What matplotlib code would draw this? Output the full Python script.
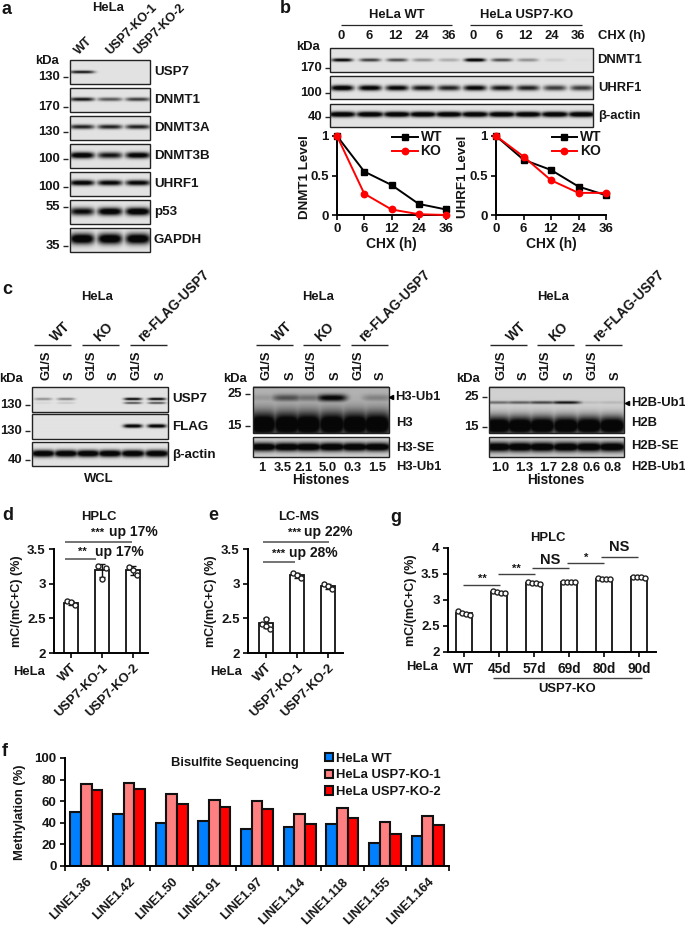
import numpy as np
import matplotlib
matplotlib.use('Agg')
import matplotlib.pyplot as plt
from matplotlib.patches import Rectangle

W, H = 685, 927
DARK = '#151515'
plt.rcParams['font.family'] = ['Liberation Sans', 'DejaVu Sans']
plt.rcParams['font.weight'] = 'bold'
plt.rcParams['axes.labelweight'] = 'bold'
plt.rcParams['font.size'] = 9.4
plt.rcParams['text.color'] = DARK
plt.rcParams['axes.labelcolor'] = DARK
plt.rcParams['xtick.color'] = DARK
plt.rcParams['ytick.color'] = DARK

# line charts, panel b
chx_labels = ['0', '6', '12', '24', '36']
dnmt1_wt = [1, 0.55, 0.38, 0.14, 0.07]
dnmt1_ko = [1, 0.27, 0.07, 0.01, 0.0]
uhrf1_wt = [1, 0.70, 0.57, 0.36, 0.25]
uhrf1_ko = [1, 0.74, 0.44, 0.28, 0.28]

# bars, panels d e g
ko_labels = ['WT', 'USP7-KO-1', 'USP7-KO-2']
hplc_d = [2.72, 3.19, 3.19]
hplc_d_pts = [[2.755, 2.73, 2.69], [3.26, 3.07, 3.23], [3.245, 3.19, 3.13]]
hplc_d_err = [0.03, 0.10, 0.06]
lcms = [2.43, 3.12, 2.96]
lcms_pts = [[2.42, 2.49, 2.35, 2.39], [3.15, 3.12, 3.08], [2.99, 2.96, 2.92]]
lcms_err = [0.07, 0.04, 0.04]
day_labels = ['WT', '45d', '57d', '69d', '80d', '90d']
hplc_g = [2.75, 3.15, 3.33, 3.35, 3.41, 3.44]
hplc_g_pts = [[2.78, 2.75, 2.74, 2.72], [3.17, 3.15, 3.14, 3.13],
              [3.34, 3.33, 3.33, 3.31], [3.35, 3.35, 3.35, 3.35],
              [3.43, 3.41, 3.41, 3.40], [3.45, 3.45, 3.44, 3.42]]

# bars, panel f
line1_labels = ['LINE1.36', 'LINE1.42', 'LINE1.50', 'LINE1.91', 'LINE1.97',
                'LINE1.114', 'LINE1.118', 'LINE1.155', 'LINE1.164']
meth_wt = [50, 48, 40, 42, 34, 36, 39, 21, 27.5]
meth_ko1 = [76, 77, 67, 61, 60, 48, 54, 41, 46]
meth_ko2 = [70, 71, 57, 55, 53, 39, 44, 30, 38]

# band strengths per lane
a_usp7 = [0.75, 0, 0]
a_dnmt1 = [0.75, 0.5, 0.6]
a_dnmt3a = [0.7, 0.7, 0.7]
a_dnmt3b = [0.95, 0.75, 0.9]
a_uhrf1 = [0.9, 0.85, 0.85]
a_p53 = [0.8, 0.95, 1.0]
a_gapdh = [1.0, 1.0, 1.0]
b_dnmt1 = [0.85, 0.6, 0.55, 0.3, 0.2, 0.95, 0.55, 0.3, 0.08, 0.02]
b_uhrf1 = [0.95, 0.9, 0.85, 0.75, 0.7, 0.85, 0.75, 0.7, 0.6, 0.6]
b_actin = [1, 1, 1, 1, 1, 1, 1, 1, 1, 1]
c_usp7_up = [0.3, 0.35, 0, 0, 0.85, 0.85]
c_usp7_lo = [0.05, 0.1, 0, 0, 0.55, 0.55]
c_flag = [0, 0, 0, 0, 0.95, 0.95]
c_actin = [1, 1, 1, 1, 1, 1]
h3_ub = [0.12, 0.45, 0.3, 0.85, 0.02, 0.22]
h3_main = [1, 1, 1, 1, 1, 1]
h3_se = [1, 1, 1, 1, 1, 1]
h2b_ub = [0.4, 0.45, 0.55, 0.75, 0.08, 0.1]
h2b_main = [1, 1, 1, 1, 1, 1]
h2b_se = [1, 1, 1, 1, 1, 1]

fig = plt.figure(figsize=(W / 100, H / 100), dpi=100)
ov = fig.add_axes([0, 0, 1, 1], zorder=5)
ov.patch.set_alpha(0)
ov.set_xlim(0, W)
ov.set_ylim(H, 0)
ov.axis('off')


def txt(x, y, s, ha='center', va='center', size=9.4, rot=0, **kw):
    ov.text(x, y, s, ha=ha, va=va, fontsize=size, rotation=rot, rotation_mode='anchor', **kw)


def hline(x0, x1, y, color='0.15', lw=0.9):
    ov.plot([x0, x1], [y, y], color=color, lw=lw, solid_capstyle='butt')


def blot(x0, x1, y0, y1, lanes, bands, width=9, bg=0.89):
    # bands: (fraction down the panel, half thickness in px, strengths per lane)
    nx, ny = int((x1 - x0) * 3), int((y1 - y0) * 3)
    xx, yy = np.meshgrid(np.linspace(x0, x1, nx), np.linspace(0, y1 - y0, ny))
    dark = np.zeros_like(xx)
    for frac, thick, strengths in bands:
        yc = frac * (y1 - y0)
        for cx, s in zip(lanes, strengths):
            shape = np.exp(-((xx - cx) / width) ** 4) * np.exp(-((yy - yc) / thick) ** 2)
            dark = np.maximum(dark, np.minimum(1, 1.3 * s * shape))
    img = bg * (1 - dark) + 0.03 * dark
    ov.imshow(img, extent=(x0, x1, y1, y0), aspect='auto', cmap='gray', vmin=0, vmax=1,
              interpolation='bilinear', zorder=1)
    ov.add_patch(Rectangle((x0, y0), x1 - x0, y1 - y0, fill=False, ec='#222222', lw=1.0, zorder=2))


def kda(x_right, y, s):
    txt(x_right - 7, y, s, ha='right')
    hline(x_right - 4, x_right + 1, y, lw=1.0)


def chart(x0, x1, ytop, ybot, ymin, ymax, yticks):
    ax = fig.add_axes([x0 / W, 1 - ybot / H, (x1 - x0) / W, (ybot - ytop) / H])
    ax.set_ylim(ymin, ymax)
    ax.set_yticks(yticks)
    ax.set_yticklabels(['%g' % t for t in yticks])
    ax.spines['top'].set_visible(False)
    ax.spines['right'].set_visible(False)
    ax.spines['left'].set_linewidth(1.4)
    ax.spines['bottom'].set_linewidth(1.4)
    ax.tick_params(width=1.3, length=3.5, pad=2.5, labelsize=9.5)
    ax.patch.set_alpha(0)
    return ax


def bar_panel(x0, x1, centers, ytop, ybot, ymin, ymax, yticks, values, points, errs, labels, width, offs):
    ax = chart(x0, x1, ytop, ybot, ymin, ymax, yticks)
    unit = centers[1] - centers[0]
    ax.set_xlim((x0 - centers[0]) / unit, (x1 - centers[0]) / unit)
    pos = np.arange(len(values))
    ax.bar(pos, values, width=width / unit, color='white', edgecolor='#111111', linewidth=1.3)
    if errs is not None:
        ax.errorbar(pos, values, yerr=errs, fmt='none', ecolor='#111111', elinewidth=1.0, capsize=2.5, capthick=1.0)
    for p, vals in zip(pos, points):
        ax.scatter(p + np.array(offs[:len(vals)]), vals, s=13, facecolor='white', edgecolor='#222222',
                   linewidth=1.0, zorder=4, clip_on=False)
    ax.set_xticks(pos)
    ax.set_xticklabels(labels)
    return ax


def decay(x0, x1, wt, ko, ylabel, label_x):
    ax = chart(x0, x1, 136, 215, 0, 1, [0, 0.5, 1])
    ax.set_xlim(0, 4)
    pos = np.arange(5)
    ax.plot(pos, wt, color='black', lw=1.4, marker='s', ms=4.6, clip_on=False, label='WT', zorder=3)
    ax.plot(pos, ko, color='#ff0000', lw=1.4, marker='o', ms=4.6, clip_on=False, label='KO', zorder=4)
    ax.set_xticks(pos)
    ax.set_xticklabels(chx_labels)
    ax.set_xlabel('CHX (h)', labelpad=1, fontsize=10)
    ax.set_ylabel(ylabel, fontsize=9.6)
    ax.yaxis.set_label_coords(label_x, 0.48)
    ax.legend(loc='upper left', bbox_to_anchor=(0.505, 1.07), frameon=False, handlelength=1.85, handletextpad=0.2,
              labelspacing=0.0, borderpad=0, borderaxespad=0, prop={'size': 10, 'weight': 'bold'})
    return ax


# panel letters
for x, y, s in [(2, 9, 'a'), (280, 8, 'b'), (2, 289, 'c'), (2, 516, 'd'),
                (208, 516, 'e'), (390, 517, 'g'), (2, 752, 'f')]:
    txt(x, y, s, ha='left', size=13)

# panel a
lanes_a = [82, 110, 138]
txt(108, 8, 'HeLa')
for x, s in [(84, 'WT'), (115, 'USP7-KO-1'), (143, 'USP7-KO-2')]:
    txt(x - 3, 57, s, ha='left', va='bottom', rot=45, size=9)
a_rows = [(60, 84, a_usp7, 0.5, 1.5, 'USP7'), (88, 112, a_dnmt1, 0.47, 1.9, 'DNMT1'),
          (116, 140, a_dnmt3a, 0.45, 2.3, 'DNMT3A'), (144, 168, a_dnmt3b, 0.47, 3.2, 'DNMT3B'),
          (172, 196, a_uhrf1, 0.45, 2.8, 'UHRF1'), (200, 224, a_p53, 0.48, 4.0, 'p53'),
          (228, 252, a_gapdh, 0.45, 5.5, 'GAPDH')]
for y0, y1, vals, frac, thick, name in a_rows:
    blot(70, 150, y0, y1, lanes_a, [(frac, thick, vals)], width=12.5)
    txt(154, (y0 + y1) / 2, name, ha='left', size=9.6)
txt(47, 61, 'kDa')
for y, s in [(77, '130'), (107, '170'), (132, '130'), (159, '100'), (187, '100'), (207, '55'), (246, '35')]:
    kda(67, y, s)

# panel b
lanes_b = [342, 370, 397, 423, 449, 475, 502, 528, 555, 582]
blot(330, 593, 48, 72, lanes_b, [(0.5, 1.7, b_dnmt1)], width=10.5)
blot(330, 593, 76, 99, lanes_b, [(0.52, 2.8, b_uhrf1)], width=11.5)
blot(330, 593, 104, 127, lanes_b, [(0.45, 2.8, b_actin)], width=14)
txt(397, 15, 'HeLa WT')
txt(527, 15, 'HeLa USP7-KO')
hline(341, 452, 25)
hline(470, 582, 25)
for x, s in zip([341, 369, 395, 422, 449, 473, 499, 525, 552, 578], chx_labels * 2):
    txt(x, 36, s)
txt(598, 36, 'CHX (h)', ha='left')
txt(597, 60, 'DNMT1', ha='left')
txt(598, 88, 'UHRF1', ha='left')
txt(598, 116, 'β-actin', ha='left')
txt(308, 47, 'kDa')
for y, s in [(68, '170'), (93, '100'), (117, '40')]:
    kda(329, y, s)
decay(337, 446, dnmt1_wt, dnmt1_ko, 'DNMT1 Level', -0.235)
decay(496, 606, uhrf1_wt, uhrf1_ko, 'UHRF1 Level', -0.25)

# panel c
lanes_left = [43, 66, 88, 110, 133, 157]
lanes_mid = [263, 287, 308, 332, 355, 377]
lanes_right = [498, 520, 542, 566, 589, 612]
blot(32, 168, 387, 412, lanes_left, [(0.48, 1.3, c_usp7_up), (0.64, 1.1, c_usp7_lo)], width=9)
blot(32, 168, 414, 439, lanes_left, [(0.5, 1.8, c_flag)], width=9.5)
blot(32, 168, 442, 466, lanes_left, [(0.48, 3.6, c_actin)], width=12.5)
blot(253, 389, 387, 433, lanes_mid, [(0.25, 3.5, h3_ub), (0.82, 13, h3_main)], width=15, bg=0.7)
blot(253, 389, 437, 457, lanes_mid, [(0.5, 4.5, h3_se)], width=15, bg=0.82)
blot(489, 624, 387, 433, lanes_right, [(0.35, 1.5, h2b_ub), (0.85, 10, h2b_main)], width=15, bg=0.82)
blot(489, 624, 437, 457, lanes_right, [(0.5, 5, h2b_se)], width=15, bg=0.82)
for center, lanes in [(97, lanes_left), (318, lanes_mid), (553, lanes_right)]:
    txt(center, 297, 'HeLa')
    for x, s in zip(lanes, ['G1/S', 'S'] * 3):
        txt(x + 3.5, 380, s, ha='left', rot=90)
for xs in [(34, 82, 130), (256, 303, 351), (490, 537, 585)]:
    for x, s in zip(xs, ('WT', 'KO', 're-FLAG-USP7')):
        hline(x, x + 37, 345, lw=1.0)
        off = 22 if s == 'WT' else 17 if s == 'KO' else 13
        txt(x + off, 342, s, ha='left', va='baseline', rot=45, size=9.8)
txt(172, 399, 'USP7', ha='left', size=9.6)
txt(172, 427, 'FLAG', ha='left', size=9.6)
txt(172, 455, 'β-actin', ha='left', size=9.6)
txt(99, 479, 'WCL')
txt(11, 379, 'kDa')
txt(235, 379, 'kDa')
txt(468, 379, 'kDa')
for y, s in [(405, '130'), (431, '130'), (460, '40')]:
    kda(29, y, s)
for y, s in [(394, '25'), (426, '15')]:
    kda(249, y, s)
for y, s in [(397, '25'), (427, '15')]:
    kda(486, y, s)
ov.plot([391], [397], marker='<', ms=3, color='black')
ov.plot([627.5], [403], marker='<', ms=3, color='black')
txt(395, 397, 'H3-Ub1', ha='left')
txt(396, 423, 'H3', ha='left')
txt(396, 448, 'H3-SE', ha='left')
txt(396, 467, 'H3-Ub1', ha='left')
txt(631, 403, 'H2B-Ub1', ha='left')
txt(631, 423, 'H2B', ha='left')
txt(631, 446, 'H2B-SE', ha='left')
txt(631, 467, 'H2B-Ub1', ha='left')
for x, s in zip([262, 283, 304, 328, 353, 377], ['1', '3.5', '2.1', '5.0', '0.3', '1.5']):
    txt(x, 468, s)
for x, s in zip([500, 524, 548, 570, 592, 613], ['1.0', '1.3', '1.7', '2.8', '0.6', '0.8']):
    txt(x, 468, s)
txt(321, 480, 'Histones', size=9.8)
txt(556, 480, 'Histones', size=9.8)

# panel d
ax = bar_panel(54, 148, [71, 102, 133], 549, 653, 2, 3.5, [2, 2.5, 3, 3.5], hplc_d, hplc_d_pts, hplc_d_err,
               ko_labels, 14, [-0.13, 0, 0.13])
ax.set_xticklabels(ko_labels, rotation=45, ha='right', rotation_mode='anchor', fontsize=9.4)
ax.set_ylabel('mC/(mC+C) (%)', fontsize=9, labelpad=3)
txt(99, 517, 'HPLC')
hline(65, 132, 542, color='0.3', lw=1.1)
hline(65, 96, 559, color='0.3', lw=1.1)
txt(98, 533, '***', ha='center', size=8)
txt(82, 552, '**', ha='center', size=8)
txt(133, 532, 'up 17%', size=10)
txt(119, 552, 'up 17%', size=10)
txt(29, 672, 'HeLa')

# panel e
ax = bar_panel(248, 343, [266, 297, 328], 549, 653, 2, 3.5, [2, 2.5, 3, 3.5], lcms, lcms_pts, lcms_err,
               ko_labels, 14, [-0.13, 0, 0.13, 0])
ax.set_xticklabels(ko_labels, rotation=45, ha='right', rotation_mode='anchor', fontsize=9.4)
ax.set_ylabel('mC/(mC+C) (%)', fontsize=9, labelpad=3)
txt(299, 517, 'LC-MS')
hline(263, 329, 542, color='0.3', lw=1.1)
hline(263, 295, 562, color='0.3', lw=1.1)
txt(295, 533, '***', size=8)
txt(279, 554, '***', size=8)
txt(328, 532, 'up 22%', size=10)
txt(313, 553, 'up 28%', size=10)
txt(226, 672, 'HeLa')

# panel g
ax = bar_panel(448, 656, [464, 499, 534, 569, 603, 638], 548, 652, 2, 4, [2, 2.5, 3, 3.5, 4], hplc_g, hplc_g_pts,
               None, day_labels, 16, [-0.16, -0.05, 0.06, 0.17])
ax.tick_params(axis='x', labelsize=9.8, pad=4)
ax.set_ylabel('mC/(mC+C) (%)', fontsize=9, labelpad=3)
txt(548, 538, 'HPLC')
for x0, x1, y in [(463, 500, 585), (498, 535, 574), (532, 569, 568), (567, 604, 563), (601, 638, 557)]:
    hline(x0, x1, y, color='0.25', lw=1.0)
txt(482, 579, '**', size=8)
txt(516, 569, '**', size=8)
txt(550, 560, 'NS', size=10.5)
txt(586, 558, '*', size=8)
txt(619, 547, 'NS', size=10.5)
txt(422, 667, 'HeLa')
hline(493, 642, 678, color='0.25', lw=1.0)
txt(567, 689, 'USP7-KO')

# panel f
ax = chart(65, 449, 758, 866, 0, 100, [0, 20, 40, 60, 80, 100])
ax.set_xlim(0, len(line1_labels))
pos = np.arange(len(line1_labels)) + 0.5
bw = 0.25
ax.bar(pos - bw, meth_wt, bw, color='#0080ff', edgecolor='#111111', linewidth=1.5, label='HeLa WT')
ax.bar(pos, meth_ko1, bw, color='#ff8080', edgecolor='#111111', linewidth=1.5, label='HeLa USP7-KO-1')
ax.bar(pos + bw, meth_ko2, bw, color='#ff0000', edgecolor='#111111', linewidth=1.5, label='HeLa USP7-KO-2')
ax.set_xticks(np.arange(len(line1_labels) + 1))
ax.set_xticklabels([])
ax.set_xticks(pos, minor=True)
ax.set_xticklabels(line1_labels, minor=True, rotation=45, ha='right', rotation_mode='anchor', fontsize=9.2)
ax.tick_params(axis='x', which='minor', length=0, pad=7)
ax.set_ylabel('Methylation (%)', fontsize=9.4, labelpad=6)
ax.legend(loc='upper left', bbox_to_anchor=(0.677, 1.05), frameon=False, handlelength=0.6, handleheight=0.6,
          handletextpad=0.25, labelspacing=0.36, borderpad=0, borderaxespad=0, prop={'size': 9.4, 'weight': 'bold'})
txt(235, 763, 'Bisulfite Sequencing')

plt.savefig('out.png', dpi=100)
